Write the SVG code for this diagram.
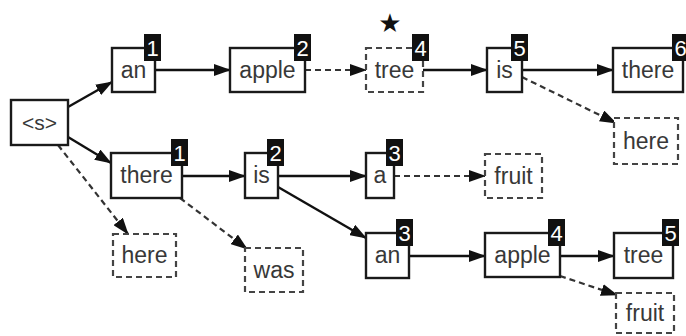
<svg xmlns="http://www.w3.org/2000/svg" width="686" height="336" viewBox="0 0 686 336">
<style>
.b{fill:#fff;stroke:#1a1a1a;stroke-width:2.4}
.d{fill:#fff;stroke:#444;stroke-width:2.2;stroke-dasharray:6 4}
.t{font-family:"Liberation Sans",Arial,sans-serif;font-size:23px;fill:#383838;text-anchor:middle}
.g{fill:#111}
.n{font-family:"Liberation Sans",Arial,sans-serif;font-size:22px;fill:#fff;text-anchor:middle}
.c{fill:none;stroke:#111;stroke-width:2.4}
.cd{fill:none;stroke:#333;stroke-width:2.2;stroke-dasharray:6 4}
</style>
<defs>
<marker id="a" markerWidth="17" markerHeight="12" refX="16" refY="6" orient="auto" markerUnits="userSpaceOnUse"><path d="M0,0 L17,6 L0,12 z" fill="#111"/></marker>
</defs>
<rect width="686" height="336" fill="#fff"/>
<g id="connectors">
<path class="c" d="M68,107 L112,82" marker-end="url(#a)"/>
<path class="c" d="M68,137 L111,163" marker-end="url(#a)"/>
<path class="cd" d="M58,145 L128,234" marker-end="url(#a)"/>
<path class="c" d="M155,70 L230,70" marker-end="url(#a)"/>
<path class="cd" d="M305,70 L366,70" marker-end="url(#a)"/>
<path class="c" d="M423,70 L487,70" marker-end="url(#a)"/>
<path class="c" d="M522,70 L613,70" marker-end="url(#a)"/>
<path class="cd" d="M522,77 L616,123" marker-end="url(#a)"/>
<path class="c" d="M182,176 L245,176" marker-end="url(#a)"/>
<path class="c" d="M278,176 L366,176" marker-end="url(#a)"/>
<path class="c" d="M278,187 L366,238" marker-end="url(#a)"/>
<path class="cd" d="M394,176 L485,176" marker-end="url(#a)"/>
<path class="cd" d="M180,198 L247,249" marker-end="url(#a)"/>
<path class="c" d="M409,256 L485,256" marker-end="url(#a)"/>
<path class="c" d="M560,256 L614,256" marker-end="url(#a)"/>
<path class="cd" d="M560,276 L617,295" marker-end="url(#a)"/>
</g>
<g id="s"><rect class="b" x="11" y="100" width="57" height="45"/><text class="t" x="39.5" y="130" style="font-size:21px">&lt;s&gt;</text></g>
<g id="an1"><rect class="b" x="112" y="48" width="43" height="44"/><text class="t" x="133.5" y="78">an</text><rect class="g" x="144" y="34" width="17" height="27"/><text class="n" x="152.5" y="56">1</text></g>
<g id="apple1"><rect class="b" x="230" y="48" width="75" height="44"/><text class="t" x="267.5" y="78">apple</text><rect class="g" x="294" y="34" width="17" height="27"/><text class="n" x="302.5" y="56">2</text></g>
<g id="tree1"><text x="390" y="32" font-family="DejaVu Sans,sans-serif" font-size="26" text-anchor="middle" fill="#111">★</text><rect class="d" x="366" y="48" width="57" height="44"/><text class="t" x="394.5" y="78">tree</text><rect class="g" x="412" y="34" width="17" height="27"/><text class="n" x="420.5" y="56">4</text></g>
<g id="is1"><rect class="b" x="487" y="48" width="35" height="44"/><text class="t" x="504.5" y="78">is</text><rect class="g" x="511" y="34" width="17" height="27"/><text class="n" x="519.5" y="56">5</text></g>
<g id="there1"><rect class="b" x="613" y="48" width="70" height="44"/><text class="t" x="648" y="78">there</text><rect class="g" x="672" y="34" width="17" height="27"/><text class="n" x="680.5" y="56">6</text></g>
<g id="here1"><rect class="d" x="614" y="118" width="64" height="46"/><text class="t" x="646" y="149">here</text></g>
<g id="there2"><rect class="b" x="111" y="153" width="71" height="45"/><text class="t" x="146.5" y="183">there</text><rect class="g" x="171" y="139" width="17" height="27"/><text class="n" x="179.5" y="161">1</text></g>
<g id="is2"><rect class="b" x="245" y="153" width="33" height="45"/><text class="t" x="261.5" y="183">is</text><rect class="g" x="267" y="139" width="17" height="27"/><text class="n" x="275.5" y="161">2</text></g>
<g id="a1"><rect class="b" x="366" y="153" width="28" height="45"/><text class="t" x="380" y="183">a</text><rect class="g" x="386" y="139" width="17" height="27"/><text class="n" x="394.5" y="161">3</text></g>
<g id="fruit1"><rect class="d" x="485" y="154" width="57" height="44"/><text class="t" x="513.5" y="184">fruit</text></g>
<g id="here2"><rect class="d" x="113" y="234" width="63" height="43"/><text class="t" x="144.5" y="263">here</text></g>
<g id="was"><rect class="d" x="245" y="248" width="58" height="44"/><text class="t" x="274" y="278">was</text></g>
<g id="an2"><rect class="b" x="366" y="233" width="43" height="45"/><text class="t" x="387.5" y="263">an</text><rect class="g" x="396" y="219" width="17" height="27"/><text class="n" x="404.5" y="241">3</text></g>
<g id="apple2"><rect class="b" x="485" y="233" width="75" height="44"/><text class="t" x="522.5" y="263">apple</text><rect class="g" x="548" y="219" width="17" height="27"/><text class="n" x="556.5" y="241">4</text></g>
<g id="tree2"><rect class="b" x="614" y="233" width="59" height="45"/><text class="t" x="643.5" y="263">tree</text><rect class="g" x="662" y="219" width="17" height="27"/><text class="n" x="670.5" y="241">5</text></g>
<g id="fruit2"><rect class="d" x="616" y="293" width="58" height="40"/><text class="t" x="645" y="321">fruit</text></g>
</svg>
